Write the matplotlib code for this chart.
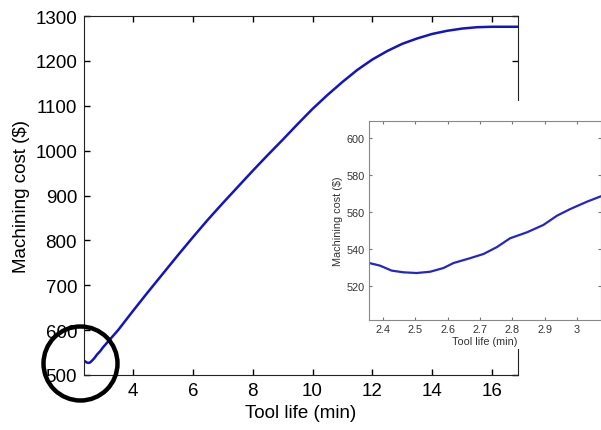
import matplotlib
matplotlib.use('Agg')
import matplotlib.pyplot as plt
from matplotlib.patches import Circle, Rectangle
import numpy as np

plt.rcParams['font.family'] = ['Liberation Sans', 'DejaVu Sans']

# main curve: tool life (min) vs machining cost ($)
tool_life = [2.36, 2.45, 2.5, 2.55, 2.6, 2.7, 2.8, 2.9, 3.0, 3.5, 4.0, 4.5, 5.0, 5.5, 6.0,
             6.5, 7.0, 7.5, 8.0, 8.5, 9.0, 9.5, 10.0, 10.5, 11.0, 11.5, 12.0, 12.5,
             13.0, 13.5, 14.0, 14.5, 15.0, 15.5, 16.0, 16.87]
cost = [532, 528, 527, 527.5, 530, 537, 546, 553, 562, 600, 643, 685, 726, 767, 807,
        846, 883, 919, 955, 990, 1024, 1059, 1093, 1124, 1153, 1180, 1203, 1222,
        1238, 1250, 1260, 1267, 1272, 1275, 1276, 1276]

# zoomed region near the minimum
zoom_life = [2.358, 2.391, 2.427, 2.463, 2.504, 2.546, 2.587, 2.618, 2.669, 2.711,
             2.752, 2.793, 2.845, 2.896, 2.938, 2.979, 3.031, 3.074]
zoom_cost = [532.4, 531.0, 528.3, 527.4, 527.0, 527.7, 529.7, 532.4, 535.0, 537.3,
             541.0, 545.8, 549.0, 553.0, 558.0, 561.6, 565.6, 568.5]

main_yticks = [500, 600, 700, 800, 900, 1000, 1100, 1200, 1300]
main_xticks = [4, 6, 8, 10, 12, 14, 16]
zoom_yticks = [520, 540, 560, 580, 600]
zoom_xticks = [2.4, 2.5, 2.6, 2.7, 2.8, 2.9, 3.0]
zoom_xlabels = ['2.4', '2.5', '2.6', '2.7', '2.8', '2.9', '3']

fig = plt.figure(figsize=(6.01, 4.31), dpi=100)

ax = fig.add_axes([84 / 601, 1 - 376 / 431, 434 / 601, 359 / 431])
ax.plot(tool_life, cost, color='#1414c0', lw=1.8)
ax.set_xlim(2.36, 16.87)
ax.set_ylim(500, 1300)
ax.set_xticks(main_xticks)
ax.set_yticks(main_yticks)
ax.tick_params(direction='in', top=True, right=True, length=4, width=1, labelsize=13.5, pad=5)
ax.set_xlabel('Tool life (min)', fontsize=13.5, labelpad=4)
ax.set_ylabel('Machining cost ($)', fontsize=13.5, labelpad=4)
for s in ax.spines.values():
    s.set_color('#222222')

# white patch where the zoom picture was pasted
fig.patches.append(Rectangle((330 / 601, 1 - 350 / 431), 271 / 601, 248 / 431,
                             transform=fig.transFigure, facecolor='white',
                             edgecolor='none', zorder=1))

ins = fig.add_axes([369 / 601, 1 - 321 / 431, 232 / 601, 199 / 431])
ins.set_zorder(2)
ins.plot(zoom_life, zoom_cost, color='#2525c8', lw=1.6)
ins.set_xlim(2.357, 3.074)
ins.set_ylim(501.6, 609.2)
ins.set_xticks(zoom_xticks)
ins.set_xticklabels(zoom_xlabels)
ins.set_yticks(zoom_yticks)
ins.tick_params(direction='in', top=True, right=True, length=2.5, width=0.8,
                labelsize=7.8, pad=3, colors='#777777', labelcolor='#333333')
ins.set_xlabel('Tool life (min)', fontsize=7.8, color='#333333', labelpad=1.5)
ins.set_ylabel('Machining cost ($)', fontsize=7.8, color='#333333', labelpad=2.5)
for s in ins.spines.values():
    s.set_color('#888888')

# circle highlighting the minimum
fig.patches.append(Circle((0.805, 0.665), 0.37, transform=fig.dpi_scale_trans,
                          fill=False, edgecolor='black', lw=3.2, zorder=3))

fig.savefig('out.png', dpi=100)
